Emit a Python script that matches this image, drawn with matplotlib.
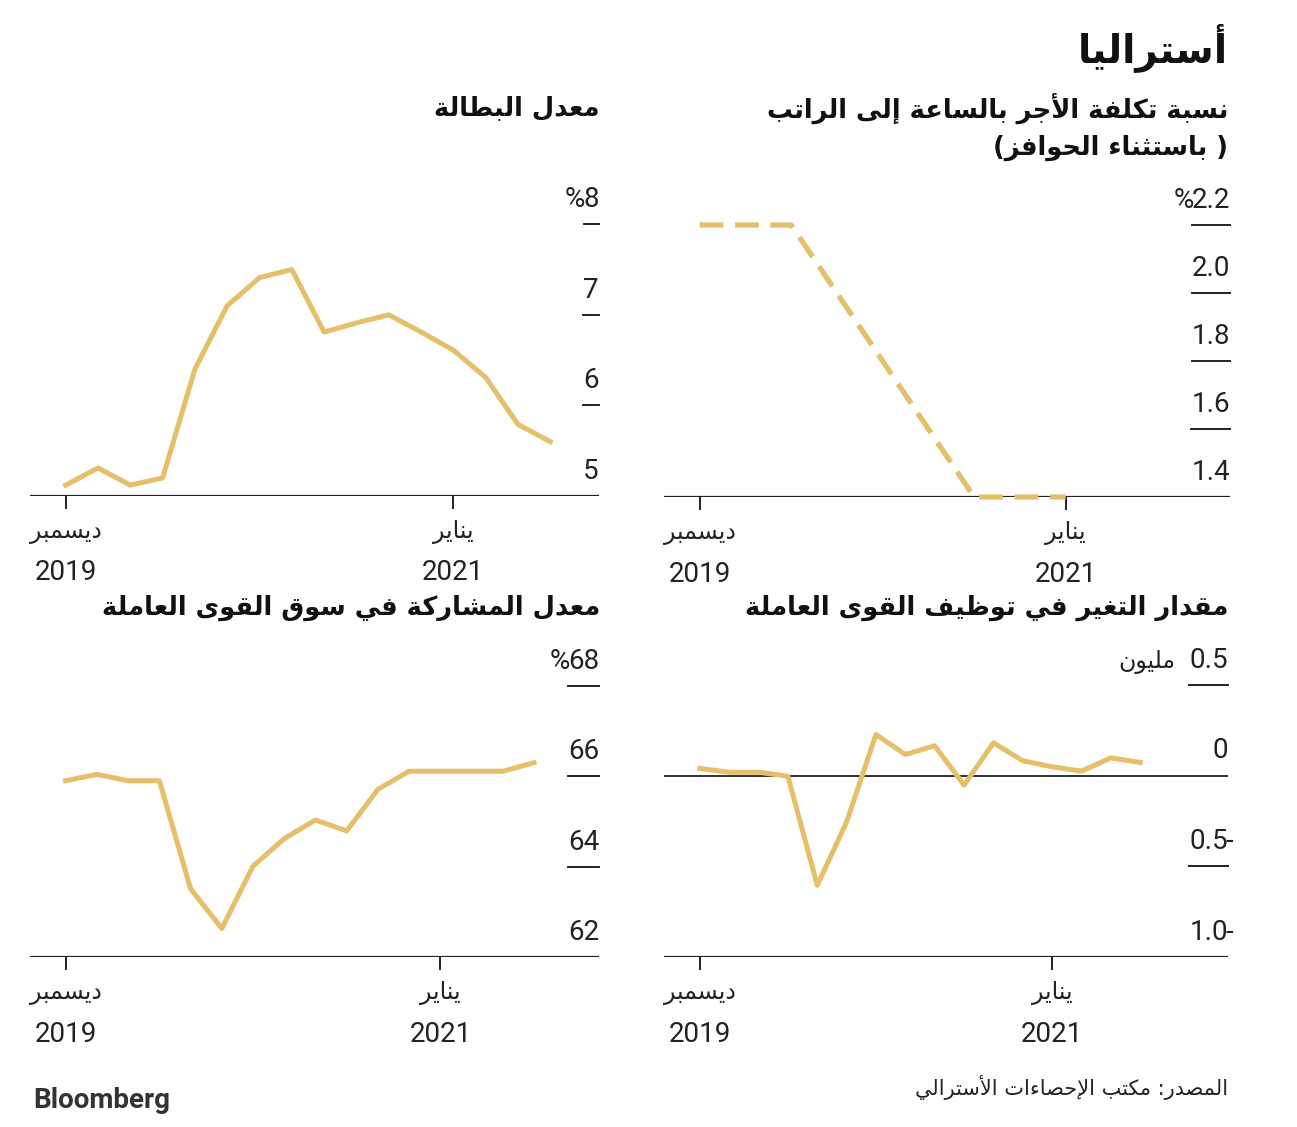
import matplotlib
matplotlib.use("Agg")
import matplotlib.pyplot as plt
from matplotlib import transforms

# ---------------- data ----------------
X_TICKS = [0, 12]
MONTHS = ["ديسمبر", "يناير"]
YEARS = ["2019", "2021"]

UNEMP = [5.12, 5.31, 5.12, 5.2, 6.4, 7.1, 7.41, 7.5, 6.81, 6.91, 7.0, 6.81, 6.61, 6.31, 5.79, 5.6]
UNEMP_TICKS = [5, 6, 7, 8]

WPI_MONTH = [0, 3, 6, 9, 12]
WPI = [2.2, 2.2, 1.8, 1.4, 1.4]
WPI_TICKS = [1.4, 1.6, 1.8, 2.0, 2.2]

PART = [65.9, 66.04, 65.9, 65.9, 63.51, 62.63, 64.01, 64.62, 65.03, 64.79, 65.71, 66.11, 66.11, 66.11, 66.11, 66.3]
PART_TICKS = [62, 64, 66, 68]

EMP = [0.039, 0.018, 0.018, -0.004, -0.605, -0.256, 0.226, 0.116, 0.164, -0.053, 0.18, 0.081, 0.048, 0.024, 0.097, 0.072]
EMP_TICKS = [-1.0, -0.5, 0, 0.5]

TITLE = "أستراليا"
T_UNEMP = ["معدل البطالة"]
T_WPI = ["نسبة تكلفة الأجر بالساعة إلى الراتب", "( باستثناء الحوافز)"]
T_PART = ["معدل المشاركة في سوق القوى العاملة"]
T_EMP = ["مقدار التغير في توظيف القوى العاملة"]
UNIT_EMP = "مليون"
SOURCE = "المصدر: مكتب الإحصاءات الأسترالي"

GOLD = "#E5BF69"
DARK = "#222222"
AR = "DejaVu Sans"
NUM = ["Roboto", "DejaVu Sans"]
NUM_SIZE = 20

# ---------------- minimal arabic shaping (matplotlib has no bidi) ----------------
_LET = "ءآأؤإئابةتثجحخدذرزسشصضطظعغفقكلمنهوىي"
_NF = [1, 2, 2, 2, 2, 4, 2, 4, 2, 4, 4, 4, 4, 4, 2, 2, 2, 2, 4, 4, 4, 4, 4, 4,
       4, 4, 4, 4, 4, 4, 4, 4, 4, 2, 2, 4]
FORMS = {}
_c = 0xFE80
for ch, n in zip(_LET, _NF):
    FORMS[ch] = [chr(_c + i) for i in range(n)]
    _c += n
LAMALEF = {"آ": 0xFEF5, "أ": 0xFEF7, "إ": 0xFEF9, "ا": 0xFEFB}


def ar(text):
    toks = []
    i = 0
    while i < len(text):
        if text[i] == "ل" and i + 1 < len(text) and text[i + 1] in LAMALEF:
            toks.append(("LA", text[i + 1]))
            i += 2
        else:
            toks.append(text[i])
            i += 1

    def jn(t):  # joins the following letter
        return isinstance(t, str) and t in FORMS and len(FORMS[t]) == 4

    def jp(t):  # joins the preceding letter
        return isinstance(t, tuple) or (t in FORMS and len(FORMS[t]) >= 2)

    out = []
    for k, t in enumerate(toks):
        prev = k > 0 and jn(toks[k - 1]) and jp(t)
        nxt = k + 1 < len(toks) and jn(t) and jp(toks[k + 1])
        if isinstance(t, tuple):
            out.append(chr(LAMALEF[t[1]] + (1 if prev else 0)))
        elif t in FORMS:
            f = FORMS[t]
            idx = 3 if (prev and nxt) else 1 if prev else 2 if nxt else 0
            out.append(f[idx] if idx < len(f) else f[0])
        else:
            out.append(t)
    s = "".join(reversed(out))
    return s.translate(str.maketrans("()", ")("))


# ---------------- figure ----------------
W, H = 1297, 1127
fig = plt.figure(figsize=(W / 100, H / 100), dpi=100)
fig.patch.set_facecolor("white")


def px_axes(l, r, t, b):
    return fig.add_axes([l / W, 1 - b / H, (r - l) / W, (b - t) / H])


def setup(ax, xlim, ylim, ticks, labels, prefix="", suffix_neg=False, zero_line=False):
    ax.set_xlim(xlim)
    ax.set_ylim(ylim)
    ax.axis("off")
    ax.axhline(ylim[0], color=DARK, lw=1.6, zorder=2)
    if zero_line:
        ax.axhline(0, color=DARK, lw=1.3, zorder=2)
    bt = transforms.blended_transform_factory(ax.transData, ax.transAxes)
    h_px = ax.get_position().height * H
    for x, m, yr in zip(X_TICKS, MONTHS, YEARS):
        ax.plot([x, x], [0, -12 / h_px], color=DARK, lw=1.4, transform=bt, clip_on=False)
        ax.text(x, 0, ar(m), family=AR, fontsize=17, color=DARK, ha="center", va="center",
                transform=transforms.offset_copy(bt, fig, y=-36, units="dots"))
        ax.text(x, 0, yr, family=NUM, fontsize=NUM_SIZE, color=DARK, ha="center", va="center",
                transform=transforms.offset_copy(bt, fig, y=-77, units="dots"))
    at = transforms.blended_transform_factory(ax.transAxes, ax.transData)
    off = transforms.offset_copy(at, fig, y=17, units="dots")
    r = fig.canvas.get_renderer()
    w_ax = ax.get_position().width * W
    out = []
    for v, lab in zip(ticks, labels):
        t = ax.text(1.0, v, lab, family=NUM, fontsize=NUM_SIZE, color=DARK, ha="right",
                    va="baseline", transform=off)
        wf = t.get_window_extent(r).width / w_ax
        if v != ylim[0] and not (zero_line and v == 0):
            ax.plot([1 - wf, 1], [v, v], color=DARK, lw=1.4, transform=at, clip_on=False)
        if prefix and v == ticks[-1]:
            ax.text(1 - wf + 2 / w_ax, v, prefix, family=NUM, fontsize=NUM_SIZE, color=DARK,
                    ha="right", va="baseline", transform=off)
        if suffix_neg and v < 0:
            ax.text(1.0 - 2 / w_ax, v, "-", family=NUM, fontsize=NUM_SIZE, color=DARK,
                    ha="left", va="baseline", transform=off)
        out.append(wf)
    return out


def titles(lines, x_px, y_px, size=18.5):
    for i, s in enumerate(lines):
        fig.text(x_px / W, 1 - (y_px + 40 * i) / H, ar(s), family=AR, fontweight="bold",
                 fontsize=size, color="#111111", ha="right", va="center")


# top-left: unemployment
ax1 = px_axes(30, 599, 200, 496)
setup(ax1, (-1.105, 16.51), (5, 5 + 296 / 90.6), UNEMP_TICKS, ["5", "6", "7", "8"], prefix="%")
ax1.plot(range(len(UNEMP)), UNEMP, color=GOLD, lw=3.6, zorder=3)

# top-right: wage price index
ax2 = px_axes(664, 1230, 200, 497)
setup(ax2, (-1.17, 17.39), (1.4, 1.4 + 297 / 340), WPI_TICKS,
      ["1.4", "1.6", "1.8", "2.0", "2.2"], prefix="%")
ax2.plot(WPI_MONTH, WPI, color=GOLD, lw=3.8, ls=(0, (4.5, 2.2)), zorder=3, clip_on=False)

# bottom-left: participation
ax3 = px_axes(30, 599, 660, 957)
setup(ax3, (-1.143, 17.08), (62, 62 + 297 / 45.2), PART_TICKS, ["62", "64", "66", "68"], prefix="%")
ax3.plot(range(len(PART)), PART, color=GOLD, lw=3.6, zorder=3)

# bottom-right: employment change
ax4 = px_axes(664, 1228, 660, 957)
wfs = setup(ax4, (-1.22, 17.99), (-1.0, -1.0 + 297 / 181.5), EMP_TICKS,
            ["1.0", "0.5", "0", "0.5"], suffix_neg=True, zero_line=True)
ax4.plot(range(len(EMP)), EMP, color=GOLD, lw=3.6, zorder=3)
ax4.text(1 - wfs[-1] - 14 / 564, 0.5, ar(UNIT_EMP), family=AR, fontsize=17, color=DARK,
         ha="right", va="baseline",
         transform=transforms.offset_copy(
             transforms.blended_transform_factory(ax4.transAxes, ax4.transData),
             fig, y=17, units="dots"))

# titles
fig.text(1228 / W, 1 - 48 / H, ar(TITLE), family=AR, fontweight="bold", fontsize=28,
         color="#111111", ha="right", va="center")
titles(T_WPI, 1228, 108)
titles(T_UNEMP, 600, 108)
titles(T_PART, 600, 608)
titles(T_EMP, 1228, 608)

fig.text(1228 / W, 1 - 1087 / H, ar(SOURCE), family=AR, fontsize=15, color=DARK,
         ha="right", va="center")
fig.text(33 / W, 1 - 1101 / H, "Bloomberg", family=["Roboto", "DejaVu Sans"],
         fontweight="bold", fontsize=20, color="#333333", ha="left", va="center")

fig.savefig("out.png", dpi=100, facecolor="white")
